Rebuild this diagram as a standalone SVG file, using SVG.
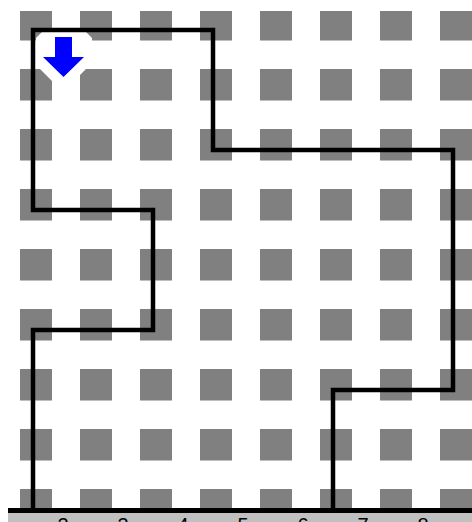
<svg xmlns="http://www.w3.org/2000/svg" width="472" height="522" viewBox="0 0 472 522">
  <style>
    .route { fill: none; stroke: #000; stroke-width: 4.5; stroke-linejoin: miter; }
    .lbl { font-family: "Liberation Sans", Arial, sans-serif; font-size: 20px; fill: #000; text-anchor: middle; }
  </style>
  <defs>
    <pattern id="dots" patternUnits="userSpaceOnUse" x="20" y="9" width="60" height="60">
      <rect x="0" y="0" width="32" height="31.5" fill="#808080"/>
    </pattern>
  </defs>
  <rect x="0" y="0" width="472" height="522" fill="#fff"/>
  <g id="grid">
    <rect x="8" y="11" width="464" height="497" fill="url(#dots)"/>
  </g>
  <g id="start-marker">
    <polygon points="42,32 86,32 92,38 92,63 69,86 57,86 36,65 36,38" fill="#fff"/>
    <polygon points="55,37 72,37 72,57 84,57 63.5,77 43,57 55,57" fill="#0000ff"/>
  </g>
  <g id="connectors">
    <path class="route" d="M33 510 V330 H153 V210 H33 V30 H213 V150 H453 V390 H333 V510"/>
  </g>
  <g id="axis">
    <rect x="8" y="512" width="464" height="10" fill="#c0c0c0"/>
    <line x1="8" y1="510.5" x2="472" y2="510.5" stroke="#000" stroke-width="5"/>
    <text class="lbl" x="63" y="532">2</text>
    <text class="lbl" x="123" y="532">3</text>
    <text class="lbl" x="183" y="532">4</text>
    <text class="lbl" x="243" y="532">5</text>
    <text class="lbl" x="303" y="532">6</text>
    <text class="lbl" x="363" y="532">7</text>
    <text class="lbl" x="423" y="532">8</text>
  </g>
</svg>
